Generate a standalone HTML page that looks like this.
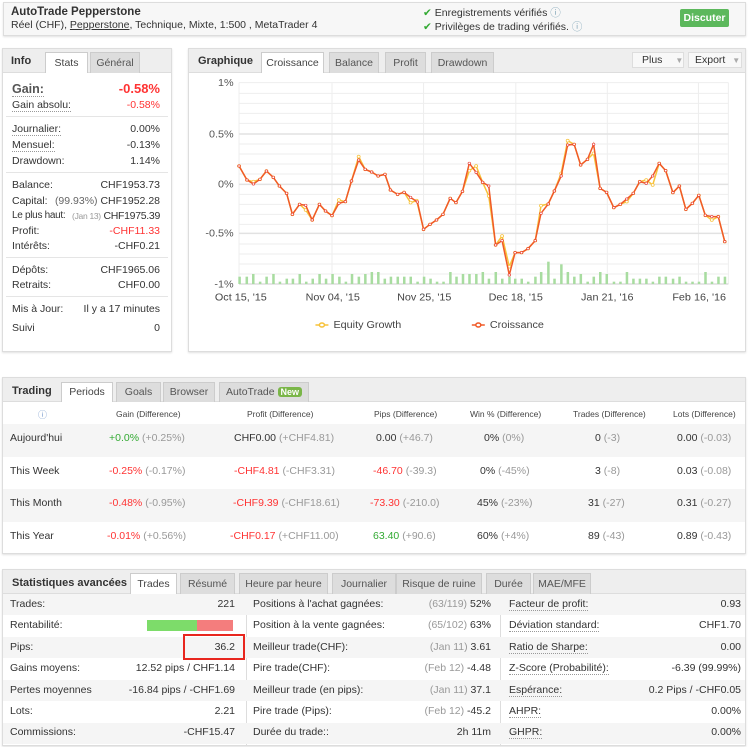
<!DOCTYPE html>
<html><head><meta charset="utf-8"><style>
*{margin:0;padding:0;box-sizing:border-box}
body{width:750px;height:747px;background:#fff;font-family:"Liberation Sans",sans-serif;font-size:10.5px;color:#333;position:relative;overflow:hidden}
.a{position:absolute;white-space:nowrap}
.box{position:absolute;border:1px solid #ddd;background:#fff;box-shadow:0 1px 2px rgba(0,0,0,.12)}
.hd{position:absolute;left:0;right:0;top:0;background:#eee;border-bottom:1px solid #ddd}
.tab{position:absolute;background:#ddd;border:1px solid #ccc;border-bottom:none;text-align:center;color:#555}
.tab.on{background:#fff;color:#444}
.r{text-align:right}
.red{color:#f33}.grn{color:#3a3}.g{color:#999}
.dl{border-bottom:1px dotted #999}
.sep{position:absolute;left:6px;right:6px;height:1px;background:#e5e5e5}
</style></head><body>

<!-- header -->
<div class="box" style="left:3px;top:2px;width:743px;height:34px;background:#f7f7f7">
<div class="a" style="left:7px;top:3px;font-weight:bold;font-size:11.5px">AutoTrade Pepperstone</div>
<div class="a" style="left:7px;top:16px;font-size:10.5px">Réel (CHF), <u>Pepperstone</u>, Technique, Mixte, 1:500 , MetaTrader 4</div>
<div class="a" style="left:419px;top:2px"><span style="color:#3a3">✔</span> Enregistrements vérifiés <span style="color:#8ab">ⓘ</span></div>
<div class="a" style="left:419px;top:16px"><span style="color:#3a3">✔</span> Privilèges de trading vérifiés. <span style="color:#8ab">ⓘ</span></div>
<div class="a" style="left:676px;top:6px;width:49px;height:18px;background:#5cb85c;color:#fff;font-weight:bold;text-align:center;line-height:18px;border-radius:2px">Discuter</div>
</div>

<!-- info panel -->
<div class="box" style="left:2px;top:48px;width:170px;height:304px">
<div class="hd" style="height:24px"></div>
<div class="a" style="left:8px;top:6px;font-weight:bold;font-size:11px">Info</div>
<div class="tab on" style="left:42px;top:3px;width:43px;height:21px;line-height:20px">Stats</div>
<div class="tab" style="left:87px;top:3px;width:50px;height:21px;line-height:20px">Général</div>
</div>
<div class="a" style="left:12px;top:82px;font-size:12.5px;font-weight:bold;color:#555"><span class="dl">Gain:</span></div>
<div class="a r red" style="right:590px;top:81px;font-size:13px;font-weight:bold">-0.58%</div>
<div class="a" style="left:12px;top:99px"><span class="dl">Gain absolu:</span></div>
<div class="a red" style="right:590px;top:99px">-0.58%</div>
<div class="sep" style="left:6px;width:162px;top:116px"></div>
<div class="a" style="left:12px;top:123px"><span class="dl">Journalier:</span></div><div class="a" style="right:590px;top:123px">0.00%</div>
<div class="a" style="left:12px;top:139px"><span class="dl">Mensuel:</span></div><div class="a" style="right:590px;top:139px">-0.13%</div>
<div class="a" style="left:12px;top:155px">Drawdown:</div><div class="a" style="right:590px;top:155px">1.14%</div>
<div class="sep" style="left:6px;width:162px;top:172px"></div>
<div class="a" style="left:12px;top:179px">Balance:</div><div class="a" style="right:590px;top:179px">CHF1953.73</div>
<div class="a" style="left:12px;top:195px">Capital:</div><div class="a" style="right:590px;top:195px"><span style="color:#666">(99.93%)</span> CHF1952.28</div>
<div class="a" style="left:12px;top:210px;font-size:10px;letter-spacing:-0.3px">Le plus haut:</div><div class="a" style="right:590px;top:210px;letter-spacing:-0.3px"><span class="g" style="font-size:8.5px">(Jan 13)</span> CHF1975.39</div>
<div class="a" style="left:12px;top:225px">Profit:</div><div class="a red" style="right:590px;top:225px">-CHF11.33</div>
<div class="a" style="left:12px;top:240px">Intérêts:</div><div class="a" style="right:590px;top:240px">-CHF0.21</div>
<div class="sep" style="left:6px;width:162px;top:257px"></div>
<div class="a" style="left:12px;top:264px">Dépôts:</div><div class="a" style="right:590px;top:264px">CHF1965.06</div>
<div class="a" style="left:12px;top:279px">Retraits:</div><div class="a" style="right:590px;top:279px">CHF0.00</div>
<div class="sep" style="left:6px;width:162px;top:296px"></div>
<div class="a" style="left:12px;top:303px">Mis à Jour:</div><div class="a" style="right:590px;top:303px">Il y a 17 minutes</div>
<div class="a" style="left:12px;top:322px">Suivi</div><div class="a" style="right:590px;top:322px">0</div>

<!-- graph panel -->
<div class="box" style="left:188px;top:48px;width:558px;height:304px">
<div class="hd" style="height:24px"></div>
<div class="a" style="left:9px;top:6px;font-weight:bold;font-size:11px">Graphique</div>
<div class="tab on" style="left:72px;top:3px;width:63px;height:21px;line-height:20px">Croissance</div>
<div class="tab" style="left:140px;top:3px;width:50px;height:21px;line-height:20px">Balance</div>
<div class="tab" style="left:196px;top:3px;width:41px;height:21px;line-height:20px">Profit</div>
<div class="tab" style="left:242px;top:3px;width:63px;height:21px;line-height:20px">Drawdown</div>
<div class="a" style="left:443px;top:3px;width:52px;height:16px;background:#f8f8f8;border:1px solid #ddd;line-height:14px;padding-left:9px">Plus <span style="color:#aaa;font-size:8px;margin-left:10px">▼</span></div>
<div class="a" style="left:499px;top:3px;width:54px;height:16px;background:#f8f8f8;border:1px solid #ddd;line-height:14px;padding-left:6px">Export <span style="color:#aaa;font-size:8px;margin-left:4px">▼</span></div>
</div>

<svg class="a" style="left:185px;top:40px" width="565" height="310" viewBox="0 0 1568 930" preserveAspectRatio="none">
<defs>
<marker id="my" viewBox="-10 -10 20 20" markerUnits="userSpaceOnUse" markerWidth="14" markerHeight="14" refX="0" refY="0"><circle r="6" fill="#fff" stroke="#f7c23a" stroke-width="3"/></marker>
<marker id="mr" viewBox="-10 -10 20 20" markerUnits="userSpaceOnUse" markerWidth="12" markerHeight="12" refX="0" refY="0"><circle r="6" fill="#fff" stroke="#e8322a" stroke-width="3"/></marker>
</defs>
<g stroke="#eee" vector-effect="non-scaling-stroke">
<path d="M150 128H1508M150 160H1508M150 190H1508M150 220H1508M150 250H1508M150 282H1508M150 312H1508M150 342H1508M150 372H1508M150 402H1508M150 433H1508M150 463H1508M150 493H1508M150 523H1508M150 553H1508M150 580H1508M150 612H1508M150 642H1508M150 672H1508M150 702H1508" vector-effect="non-scaling-stroke"/>
<path d="M150 128V732M408 128V732M662 128V732M918 128V732M1172 128V732M1425 128V732M1508 128V732" vector-effect="non-scaling-stroke"/>
</g>
<path d="M150 282H1508M150 433H1508M150 580H1508" stroke="#e2e2e2" stroke-width="1.5" vector-effect="non-scaling-stroke"/>
<path d="M150 732H1508" stroke="#ccc" vector-effect="non-scaling-stroke"/>
<g fill="#a8dca0">
<rect x="148" y="710" width="7" height="22"/><rect x="168" y="710" width="7" height="22"/><rect x="186" y="702" width="7" height="30"/><rect x="205" y="725" width="7" height="7"/><rect x="223" y="710" width="7" height="22"/><rect x="242" y="702" width="7" height="30"/><rect x="260" y="725" width="7" height="7"/><rect x="279" y="716" width="7" height="16"/><rect x="296" y="716" width="7" height="16"/><rect x="315" y="702" width="7" height="30"/><rect x="333" y="725" width="7" height="7"/><rect x="351" y="716" width="7" height="16"/><rect x="370" y="702" width="7" height="30"/><rect x="388" y="716" width="7" height="16"/><rect x="406" y="702" width="7" height="30"/><rect x="425" y="710" width="7" height="22"/><rect x="443" y="725" width="7" height="7"/><rect x="460" y="702" width="7" height="30"/><rect x="479" y="710" width="7" height="22"/><rect x="497" y="702" width="7" height="30"/><rect x="515" y="696" width="7" height="36"/><rect x="533" y="696" width="7" height="36"/><rect x="551" y="716" width="7" height="16"/><rect x="568" y="710" width="7" height="22"/><rect x="587" y="710" width="7" height="22"/><rect x="605" y="710" width="7" height="22"/><rect x="623" y="710" width="7" height="22"/><rect x="642" y="725" width="7" height="7"/><rect x="660" y="710" width="7" height="22"/><rect x="678" y="716" width="7" height="16"/><rect x="696" y="725" width="7" height="7"/><rect x="714" y="725" width="7" height="7"/><rect x="733" y="696" width="7" height="36"/><rect x="750" y="710" width="7" height="22"/><rect x="768" y="702" width="7" height="30"/><rect x="786" y="702" width="7" height="30"/><rect x="805" y="702" width="7" height="30"/><rect x="823" y="696" width="7" height="36"/><rect x="840" y="716" width="7" height="16"/><rect x="859" y="696" width="7" height="36"/><rect x="877" y="716" width="7" height="16"/><rect x="897" y="710" width="7" height="22"/><rect x="913" y="716" width="7" height="16"/><rect x="931" y="716" width="7" height="16"/><rect x="949" y="725" width="7" height="7"/><rect x="969" y="710" width="7" height="22"/><rect x="985" y="696" width="7" height="36"/><rect x="1005" y="665" width="7" height="67"/><rect x="1022" y="716" width="7" height="16"/><rect x="1041" y="673" width="7" height="59"/><rect x="1059" y="696" width="7" height="36"/><rect x="1077" y="710" width="7" height="22"/><rect x="1095" y="702" width="7" height="30"/><rect x="1114" y="725" width="7" height="7"/><rect x="1131" y="710" width="7" height="22"/><rect x="1149" y="696" width="7" height="36"/><rect x="1167" y="702" width="7" height="30"/><rect x="1187" y="725" width="7" height="7"/><rect x="1205" y="725" width="7" height="7"/><rect x="1223" y="696" width="7" height="36"/><rect x="1241" y="716" width="7" height="16"/><rect x="1259" y="716" width="7" height="16"/><rect x="1277" y="716" width="7" height="16"/><rect x="1295" y="725" width="7" height="7"/><rect x="1313" y="710" width="7" height="22"/><rect x="1331" y="710" width="7" height="22"/><rect x="1351" y="716" width="7" height="16"/><rect x="1369" y="710" width="7" height="22"/><rect x="1387" y="725" width="7" height="7"/><rect x="1405" y="725" width="7" height="7"/><rect x="1423" y="725" width="7" height="7"/><rect x="1441" y="696" width="7" height="36"/><rect x="1459" y="725" width="7" height="7"/><rect x="1477" y="710" width="7" height="22"/><rect x="1495" y="710" width="7" height="22"/>
</g>
<g fill="none">
<polyline stroke="#f7c23a" stroke-width="1.5" vector-effect="non-scaling-stroke" marker-start="url(#my)" marker-mid="url(#my)" marker-end="url(#my)" points="150,378 172,420 190,425 208,418 226,393 245,412 262,438 282,460 298,523 318,493 335,510 353,540 373,493 390,513 408,527 427,480 445,485 462,423 482,350 500,388 518,396 536,408 555,403 570,450 590,463 608,457 626,488 643,482 662,568 680,553 698,540 716,523 736,475 752,488 770,454 789,392 808,378 826,427 843,468 862,615 880,588 900,680 916,638 934,638 952,626 972,602 988,497 1008,492 1025,453 1044,400 1062,302 1080,313 1098,375 1117,358 1134,340 1152,445 1170,457 1190,503 1208,493 1226,485 1244,460 1262,425 1280,420 1298,435 1316,370 1334,392 1354,458 1372,438 1390,508 1408,490 1426,466 1444,526 1462,540 1480,530 1498,605"/>
<polyline stroke="#f05a28" stroke-width="1.5" vector-effect="non-scaling-stroke" marker-start="url(#mr)" marker-mid="url(#mr)" marker-end="url(#mr)" points="150,378 172,420 190,432 208,418 226,393 245,412 262,438 282,460 298,523 318,493 335,496 353,540 373,493 390,513 408,527 427,490 445,485 462,423 482,360 500,388 518,396 536,408 555,403 570,450 590,463 608,457 626,472 645,486 662,568 680,553 698,540 716,523 736,475 752,488 770,454 789,370 808,397 826,427 843,438 862,615 880,602 900,705 916,638 934,638 952,626 972,602 988,520 1008,492 1025,453 1044,408 1062,315 1080,313 1098,375 1117,358 1134,313 1152,445 1170,457 1190,503 1208,493 1226,477 1244,460 1262,425 1280,430 1298,408 1316,370 1334,392 1354,458 1372,438 1390,508 1408,490 1426,466 1444,526 1462,530 1480,530 1498,605"/>
</g>
<g font-family="Liberation Sans,sans-serif" font-size="30" fill="#555" text-anchor="end">
<text x="135" y="138">1%</text>
<text x="135" y="292">0.5%</text>
<text x="135" y="443">0%</text>
<text x="135" y="590">-0.5%</text>
<text x="135" y="742">-1%</text>
</g>
<g font-family="Liberation Sans,sans-serif" font-size="30" fill="#444" text-anchor="middle">
<text x="155" y="782">Oct 15, '15</text>
<text x="410" y="782">Nov 04, '15</text>
<text x="664" y="782">Nov 25, '15</text>
<text x="918" y="782">Dec 18, '15</text>
<text x="1172" y="782">Jan 21, '16</text>
<text x="1427" y="782">Feb 16, '16</text>
</g>
<path d="M362 855H398" stroke="#f7c23a" stroke-width="1.5" vector-effect="non-scaling-stroke"/>
<ellipse cx="380" cy="855" rx="7" ry="6" fill="#fff" stroke="#f7c23a" stroke-width="1.5" vector-effect="non-scaling-stroke"/>
<path d="M796 855H832" stroke="#f05a28" stroke-width="1.5" vector-effect="non-scaling-stroke"/>
<ellipse cx="814" cy="855" rx="7" ry="6" fill="#fff" stroke="#f05a28" stroke-width="1.5" vector-effect="non-scaling-stroke"/>
<g font-family="Liberation Sans,sans-serif" font-size="30" fill="#444">
<text x="412" y="864">Equity Growth</text>
<text x="846" y="864">Croissance</text>
</g>
</svg>

<!-- trading panel -->
<div class="box" style="left:2px;top:377px;width:744px;height:177px">
<div class="hd" style="height:24px"></div>
<div class="a" style="left:9px;top:7px;font-weight:bold;font-size:11px">Trading</div>
<div class="tab on" style="left:58px;top:4px;width:52px;height:20px;line-height:19px">Periods</div>
<div class="tab" style="left:113px;top:4px;width:45px;height:20px;line-height:19px">Goals</div>
<div class="tab" style="left:160px;top:4px;width:52px;height:20px;line-height:19px">Browser</div>
<div class="tab" style="left:216px;top:4px;width:90px;height:20px;line-height:19px">AutoTrade <span style="background:#7ab648;color:#fff;font-size:9px;font-weight:bold;padding:0 3px;border-radius:3px">New</span></div>
<div class="a" style="left:0;right:0;top:46px;height:33px;background:#f5f5f5"></div>
<div class="a" style="left:0;right:0;top:111px;height:33px;background:#f5f5f5"></div>
</div>
<div class="a" style="left:38px;top:408px;color:#79c;font-size:9px">ⓘ</div>
<div style="font-size:8.5px;color:#444">
<div class="a" style="left:116px;top:409px">Gain (Difference)</div>
<div class="a" style="left:247px;top:409px">Profit (Difference)</div>
<div class="a" style="left:374px;top:409px">Pips (Difference)</div>
<div class="a" style="left:470px;top:409px">Win % (Difference)</div>
<div class="a" style="left:573px;top:409px">Trades (Difference)</div>
<div class="a" style="left:673px;top:409px">Lots (Difference)</div>
</div>
<div class="a" style="left:10px;top:432px">Aujourd'hui</div>
<div class="a" style="left:109px;top:432px"><span class="grn">+0.0%</span> <span class="g">(+0.25%)</span></div>
<div class="a" style="left:234px;top:432px">CHF0.00 <span class="g">(+CHF4.81)</span></div>
<div class="a" style="left:376px;top:432px">0.00 <span class="g">(+46.7)</span></div>
<div class="a" style="left:484px;top:432px">0% <span class="g">(0%)</span></div>
<div class="a" style="left:595px;top:432px">0 <span class="g">(-3)</span></div>
<div class="a" style="left:677px;top:432px">0.00 <span class="g">(-0.03)</span></div>

<div class="a" style="left:10px;top:465px">This Week</div>
<div class="a" style="left:109px;top:465px"><span class="red">-0.25%</span> <span class="g">(-0.17%)</span></div>
<div class="a" style="left:234px;top:465px"><span class="red">-CHF4.81</span> <span class="g">(-CHF3.31)</span></div>
<div class="a" style="left:373px;top:465px"><span class="red">-46.70</span> <span class="g">(-39.3)</span></div>
<div class="a" style="left:480px;top:465px">0% <span class="g">(-45%)</span></div>
<div class="a" style="left:595px;top:465px">3 <span class="g">(-8)</span></div>
<div class="a" style="left:677px;top:465px">0.03 <span class="g">(-0.08)</span></div>

<div class="a" style="left:10px;top:497px">This Month</div>
<div class="a" style="left:109px;top:497px"><span class="red">-0.48%</span> <span class="g">(-0.95%)</span></div>
<div class="a" style="left:233px;top:497px"><span class="red">-CHF9.39</span> <span class="g">(-CHF18.61)</span></div>
<div class="a" style="left:370px;top:497px"><span class="red">-73.30</span> <span class="g">(-210.0)</span></div>
<div class="a" style="left:477px;top:497px">45% <span class="g">(-23%)</span></div>
<div class="a" style="left:588px;top:497px">31 <span class="g">(-27)</span></div>
<div class="a" style="left:677px;top:497px">0.31 <span class="g">(-0.27)</span></div>

<div class="a" style="left:10px;top:530px">This Year</div>
<div class="a" style="left:107px;top:530px"><span class="red">-0.01%</span> <span class="g">(+0.56%)</span></div>
<div class="a" style="left:230px;top:530px"><span class="red">-CHF0.17</span> <span class="g">(+CHF11.00)</span></div>
<div class="a" style="left:373px;top:530px"><span class="grn">63.40</span> <span class="g">(+90.6)</span></div>
<div class="a" style="left:477px;top:530px">60% <span class="g">(+4%)</span></div>
<div class="a" style="left:588px;top:530px">89 <span class="g">(-43)</span></div>
<div class="a" style="left:677px;top:530px">0.89 <span class="g">(-0.43)</span></div>

<!-- stats panel -->
<div class="box" style="left:2px;top:569px;width:744px;height:177px">
<div class="hd" style="height:24px"></div>
<div class="a" style="left:9px;top:7px;font-weight:bold;font-size:11px">Statistiques avancées</div>
<div class="tab on" style="left:127px;top:3px;width:47px;height:21px;line-height:20px">Trades</div>
<div class="tab" style="left:177px;top:3px;width:55px;height:21px;line-height:20px">Résumé</div>
<div class="tab" style="left:236px;top:3px;width:89px;height:21px;line-height:20px">Heure par heure</div>
<div class="tab" style="left:329px;top:3px;width:64px;height:21px;line-height:20px">Journalier</div>
<div class="tab" style="left:393px;top:3px;width:86px;height:21px;line-height:20px">Risque de ruine</div>
<div class="tab" style="left:483px;top:3px;width:45px;height:21px;line-height:20px">Durée</div>
<div class="tab" style="left:530px;top:3px;width:58px;height:21px;line-height:20px">MAE/MFE</div>
<div class="a" style="left:243px;top:24px;width:1px;height:152px;background:#ddd"></div>
<div class="a" style="left:497px;top:24px;width:1px;height:152px;background:#ddd"></div>
<div class="a" style="left:0;right:0;top:24px;height:21px;background:#f5f5f5"></div>
<div class="a" style="left:0;right:0;top:67px;height:21px;background:#f5f5f5"></div>
<div class="a" style="left:0;right:0;top:110px;height:21px;background:#f5f5f5"></div>
<div class="a" style="left:0;right:0;top:153px;height:21px;background:#f5f5f5"></div>
</div>
<div class="a" style="left:10px;top:598px">Trades:</div><div class="a" style="right:515px;top:598px">221</div>
<div class="a" style="left:10px;top:619px">Rentabilité:</div>
<div class="a" style="left:147px;top:620px;width:50px;height:11px;background:#7ddc6a"></div>
<div class="a" style="left:197px;top:620px;width:36px;height:11px;background:#f47d7d"></div>
<div class="a" style="left:10px;top:641px">Pips:</div><div class="a" style="right:515px;top:641px">36.2</div>
<div class="a" style="left:183px;top:634px;width:62px;height:26px;border:2px solid #e8261e"></div>
<div class="a" style="left:10px;top:662px">Gains moyens:</div><div class="a" style="right:515px;top:662px">12.52 pips / CHF1.14</div>
<div class="a" style="left:10px;top:684px">Pertes moyennes</div><div class="a" style="right:515px;top:684px">-16.84 pips / -CHF1.69</div>
<div class="a" style="left:10px;top:705px">Lots:</div><div class="a" style="right:515px;top:705px">2.21</div>
<div class="a" style="left:10px;top:726px">Commissions:</div><div class="a" style="right:515px;top:726px">-CHF15.47</div>

<div class="a" style="left:253px;top:598px">Positions à l'achat gagnées:</div><div class="a" style="right:259px;top:598px"><span class="g">(63/119)</span> 52%</div>
<div class="a" style="left:253px;top:619px">Position à la vente gagnées:</div><div class="a" style="right:259px;top:619px"><span class="g">(65/102)</span> 63%</div>
<div class="a" style="left:253px;top:641px">Meilleur trade(CHF):</div><div class="a" style="right:259px;top:641px"><span class="g">(Jan 11)</span> 3.61</div>
<div class="a" style="left:253px;top:662px">Pire trade(CHF):</div><div class="a" style="right:259px;top:662px"><span class="g">(Feb 12)</span> -4.48</div>
<div class="a" style="left:253px;top:684px">Meilleur trade (en pips):</div><div class="a" style="right:259px;top:684px"><span class="g">(Jan 11)</span> 37.1</div>
<div class="a" style="left:253px;top:705px">Pire trade (Pips):</div><div class="a" style="right:259px;top:705px"><span class="g">(Feb 12)</span> -45.2</div>
<div class="a" style="left:253px;top:726px">Durée du trade::</div><div class="a" style="right:259px;top:726px">2h 11m</div>

<div class="a" style="left:509px;top:598px"><span class="dl">Facteur de profit:</span></div><div class="a" style="right:9px;top:598px">0.93</div>
<div class="a" style="left:509px;top:619px"><span class="dl">Déviation standard:</span></div><div class="a" style="right:9px;top:619px">CHF1.70</div>
<div class="a" style="left:509px;top:641px"><span class="dl">Ratio de Sharpe:</span></div><div class="a" style="right:9px;top:641px">0.00</div>
<div class="a" style="left:509px;top:662px"><span class="dl">Z-Score (Probabilité):</span></div><div class="a" style="right:9px;top:662px">-6.39 (99.99%)</div>
<div class="a" style="left:509px;top:684px"><span class="dl">Espérance:</span></div><div class="a" style="right:9px;top:684px">0.2 Pips / -CHF0.05</div>
<div class="a" style="left:509px;top:705px"><span class="dl">AHPR:</span></div><div class="a" style="right:9px;top:705px">0.00%</div>
<div class="a" style="left:509px;top:726px"><span class="dl">GHPR:</span></div><div class="a" style="right:9px;top:726px">0.00%</div>
</body></html>
